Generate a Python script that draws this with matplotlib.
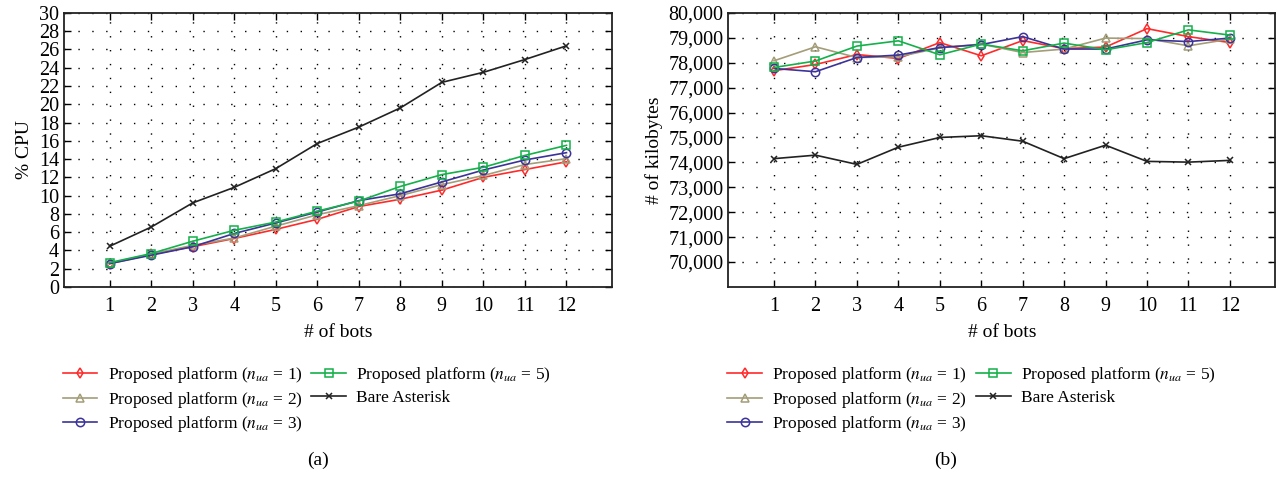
import matplotlib
matplotlib.use("Agg")
import matplotlib.pyplot as plt
from matplotlib.ticker import FuncFormatter

bots = [1, 2, 3, 4, 5, 6, 7, 8, 9, 10, 11, 12]

# (a) % CPU
cpu_nua1 = [2.55, 3.55, 4.4, 5.3, 6.3, 7.4, 8.8, 9.6, 10.6, 12.0, 12.85, 13.7]
cpu_nua2 = [2.6, 3.6, 4.55, 5.35, 6.65, 7.9, 8.9, 10.0, 11.2, 12.2, 13.4, 14.05]
cpu_nua3 = [2.55, 3.47, 4.4, 5.85, 7.0, 8.2, 9.45, 10.2, 11.5, 12.8, 13.9, 14.7]
cpu_nua5 = [2.66, 3.65, 5.0, 6.2, 7.1, 8.3, 9.4, 11.0, 12.3, 13.1, 14.4, 15.5]
cpu_bare = [4.45, 6.55, 9.2, 10.9, 12.95, 15.7, 17.5, 19.6, 22.4, 23.5, 24.9, 26.4]

# (b) # of kilobytes
kb_nua1 = [77680, 77930, 78330, 78170, 78810, 78280, 78890, 78570, 78630, 79370, 79050, 78810]
kb_nua2 = [78080, 78640, 78210, 78240, 78600, 78750, 78410, 78550, 78990, 78970, 78680, 78950]
kb_nua3 = [77770, 77640, 78210, 78310, 78610, 78730, 79050, 78550, 78550, 78920, 78850, 78990]
kb_nua5 = [77810, 78070, 78670, 78880, 78320, 78750, 78480, 78790, 78520, 78810, 79320, 79110]
kb_bare = [74150, 74290, 73920, 74610, 75000, 75070, 74850, 74150, 74690, 74040, 74010, 74080]

labels = [r"Proposed platform ($n_{ua}$ = 1)",
          r"Proposed platform ($n_{ua}$ = 2)",
          r"Proposed platform ($n_{ua}$ = 3)",
          r"Proposed platform ($n_{ua}$ = 5)",
          "Bare Asterisk"]
colors = ["#ff2a2a", "#a39d78", "#3b3399", "#14b04a", "#222222"]
markers = ["d", "^", "o", "s", "x"]
msizes = [5, 5.5, 6, 6, 4.5]

plt.rcParams["font.family"] = ["Liberation Serif", "DejaVu Serif"]
plt.rcParams["mathtext.fontset"] = "stix"
plt.rcParams["font.size"] = 13

fig = plt.figure(figsize=(12.78, 4.79), dpi=100)
ax1 = fig.add_axes([0.050, 0.401, 0.429, 0.572])
ax2 = fig.add_axes([0.570, 0.401, 0.428, 0.572])


def draw(ax, series, ylabel):
    handles = []
    for vals, c, m, ms, lab in zip(series, colors, markers, msizes, labels):
        h, = ax.plot(bots, vals, color=c, marker=m, markersize=ms,
                     markerfacecolor="none", markeredgecolor=c,
                     markeredgewidth=1.1, linewidth=1.2, label=lab)
        handles.append(h)
    ax.set_xlim(-0.1, 13.1)
    ax.set_xticks(bots)
    ax.set_xlabel("# of bots", fontsize=14, labelpad=6)
    ax.set_ylabel(ylabel, fontsize=14)
    ax.grid(True, color="black", linestyle=(0, (1, 9)), linewidth=1.0)
    ax.tick_params(direction="in", top=True, right=True, length=5,
                   labelsize=14.5, width=1.0)
    ax.tick_params(axis="x", pad=7)
    for s in ax.spines.values():
        s.set_linewidth(1.3)
        s.set_color("#222222")
    return handles


h = draw(ax1, [cpu_nua1, cpu_nua2, cpu_nua3, cpu_nua5, cpu_bare], "% CPU")
ax1.set_ylim(0, 30)
ax1.set_yticks(range(0, 31, 2))

draw(ax2, [kb_nua1, kb_nua2, kb_nua3, kb_nua5, kb_bare], "# of kilobytes")
ax2.set_ylim(69000, 80000)
ax2.set_yticks(range(70000, 80001, 1000))
ax2.yaxis.set_major_formatter(FuncFormatter(lambda v, p: f"{int(v):,}"))

for x0 in [0.049, 0.569]:
    fig.legend(h, labels, loc="upper left", bbox_to_anchor=(x0, 0.237),
               ncol=2, frameon=False, fontsize=12.5, handlelength=2.0,
               handletextpad=0.6, columnspacing=0.5, labelspacing=0.25,
               borderaxespad=0, borderpad=0)

fig.text(0.249, 0.03, "(a)", ha="center", fontsize=14)
fig.text(0.740, 0.03, "(b)", ha="center", fontsize=14)

fig.savefig("out.png", dpi=100)
